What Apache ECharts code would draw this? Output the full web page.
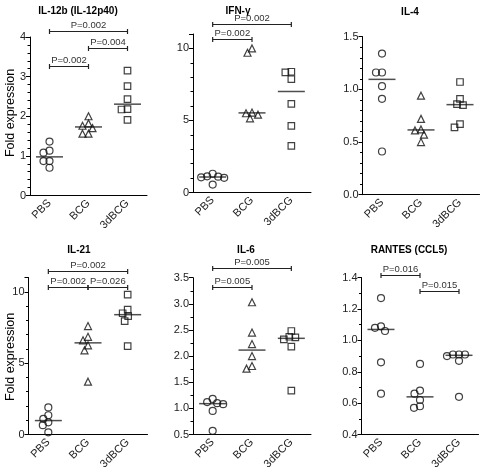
<!DOCTYPE html>
<html>
<head>
<meta charset="utf-8">
<script src="https://cdn.jsdelivr.net/npm/echarts@6/dist/echarts.min.js"></script>
<style>
html,body{margin:0;padding:0;background:#fff;}
#chart{width:481px;height:472px;}
</style>
</head>
<body>
<div id="chart"></div>
<script>
// ---------- DATA ----------
const categories = ['PBS', 'BCG', '3dBCG'];
const panelTitles = ['IL-12b (IL-12p40)', 'IFN-γ', 'IL-4', 'IL-21', 'IL-6', 'RANTES (CCL5)'];
const yAxisTitle = 'Fold expression';

const il12b_PBS   = [1.36, 1.13, 1.08, 0.87, 0.87, 0.70];
const il12b_BCG   = [2.00, 1.82, 1.76, 1.70, 1.56, 1.56];
const il12b_3dBCG = [3.15, 2.76, 2.43, 2.18, 2.17, 1.91];

const ifn_PBS   = [1.30, 1.12, 1.10, 1.05, 1.02, 0.55];
const ifn_BCG   = [10.0, 9.70, 5.55, 5.50, 5.40, 5.15];
const ifn_3dBCG = [8.38, 8.33, 7.87, 6.15, 4.62, 3.23];

const il4_PBS   = [1.34, 1.16, 1.16, 1.03, 0.91, 0.41];
const il4_BCG   = [0.94, 0.72, 0.62, 0.61, 0.57, 0.50];
const il4_3dBCG = [1.07, 0.91, 0.86, 0.85, 0.67, 0.64];

const il21_PBS   = [1.90, 1.35, 1.10, 0.85, 0.65, 0.15];
const il21_BCG   = [7.60, 6.85, 6.60, 6.25, 5.90, 3.70];
const il21_3dBCG = [9.80, 8.75, 8.50, 8.30, 7.95, 6.20];

const il6_PBS   = [1.18, 1.12, 1.10, 1.08, 0.95, 0.57];
const il6_BCG   = [3.03, 2.45, 2.23, 2.00, 1.81, 1.76];
const il6_3dBCG = [2.48, 2.37, 2.36, 2.32, 2.18, 1.34];

const rantes_PBS   = [1.27, 1.09, 1.08, 1.06, 0.86, 0.66];
const rantes_BCG   = [0.85, 0.68, 0.66, 0.62, 0.58, 0.57];
const rantes_3dBCG = [0.91, 0.91, 0.91, 0.90, 0.87, 0.64];

// brackets: [label, fromCategory, toCategory, level (data units)]
const il12b_P  = [['P=0.002', 0, 1, 3.28], ['P=0.004', 1, 2, 3.72], ['P=0.002', 0, 2, 4.15]];
const ifn_P    = [['P=0.002', 0, 1, 10.65], ['P=0.002', 0, 2, 11.67]];
const il4_P    = [];
const il21_P   = [['P=0.002', 0, 1, 10.37], ['P=0.026', 1, 2, 10.37], ['P=0.002', 0, 2, 11.46]];
const il6_P    = [['P=0.005', 0, 1, 3.33], ['P=0.005', 0, 2, 3.68]];
const rantes_P = [['P=0.016', 0, 1, 1.42], ['P=0.015', 1, 2, 1.316]];

// y-axis scales: [min, max, major, minor, decimals]
const il12b_Y  = [0, 4, 1, 0.2, 0];
const ifn_Y    = [0, 11, 5, 1, 0];
const il4_Y    = [0, 1.5, 0.5, 0.1, 1];
const il21_Y   = [0, 11, 5, 1, 0];
const il6_Y    = [0.5, 3.5, 0.5, 0.25, 1];
const rantes_Y = [0.4, 1.4, 0.2, 0.1, 1];

// ---------- LAYOUT ----------
const panels = [
  { groups: [il12b_PBS, il12b_BCG, il12b_3dBCG], P: il12b_P, Y: il12b_Y, shapes: ['circle', 'triangle', 'rect'],
    grid: { left: 30, top: 37, width: 117, height: 158.5 }, title: [78, 11], ylab: [11, 113] },
  { groups: [ifn_PBS, ifn_BCG, ifn_3dBCG], P: ifn_P, Y: ifn_Y, shapes: ['circle', 'triangle', 'rect'],
    grid: { left: 193, top: 34, width: 118, height: 158.5 }, title: [238, 11.5] },
  { groups: [il4_PBS, il4_BCG, il4_3dBCG], P: il4_P, Y: il4_Y, shapes: ['circle', 'triangle', 'rect'],
    grid: { left: 362.5, top: 36.7, width: 117, height: 158 }, title: [410, 12.5] },
  { groups: [il21_PBS, il21_BCG, il21_3dBCG], P: il21_P, Y: il21_Y, shapes: ['circle', 'triangle', 'rect'],
    grid: { left: 28.5, top: 277.6, width: 119, height: 158.4 }, title: [79, 250], ylab: [11, 357] },
  { groups: [il6_PBS, il6_BCG, il6_3dBCG], P: il6_P, Y: il6_Y, shapes: ['circle', 'triangle', 'rect'],
    grid: { left: 193, top: 277.7, width: 118, height: 158.3 }, title: [246, 250] },
  { groups: [rantes_PBS, rantes_BCG, rantes_3dBCG], P: rantes_P, Y: rantes_Y, shapes: ['circle', 'circle', 'circle'],
    grid: { left: 361.5, top: 277.7, width: 117, height: 159 }, title: [409, 250] }
];

function median(a) {
  const s = a.slice().sort((x, y) => x - y);
  const n = s.length;
  return n % 2 ? s[(n - 1) / 2] : (s[n / 2 - 1] + s[n / 2]) / 2;
}

// beeswarm offsets (pixels) so that nearby symbols do not sit on top of each other
function swarm(values, pxPerUnit, d) {
  const idx = values.map((v, i) => i).sort((a, b) => values[b] - values[a]);
  const placed = [];
  const off = new Array(values.length).fill(0);
  for (const i of idx) {
    const y = values[i] * pxPerUnit;
    let chosen = 0;
    for (let k = 0; k < 400; k++) {
      const cands = k === 0 ? [0] : [-k * 0.5, k * 0.5];
      let ok = null;
      for (const dx of cands) {
        if (placed.every(p => (p.x - dx) * (p.x - dx) + (p.y - y) * (p.y - y) >= d * d)) { ok = dx; break; }
      }
      if (ok !== null) { chosen = ok; break; }
    }
    placed.push({ x: chosen, y: y });
    off[i] = chosen;
  }
  return off;
}

const FONT = 'Liberation Sans, Arial, Helvetica, sans-serif';
const grids = [], xAxes = [], yAxes = [], series = [], graphics = [];

panels.forEach((p, pi) => {
  const [ymin, ymax, major, minor, dec] = p.Y;
  grids.push(Object.assign({ containLabel: false }, p.grid));
  xAxes.push({
    type: 'category', gridIndex: pi, data: categories, boundaryGap: true,
    axisLine: { lineStyle: { color: '#000', width: 1 } },
    axisTick: { alignWithLabel: true, length: 4, lineStyle: { color: '#000' } },
    axisLabel: { rotate: 45, margin: 6, fontSize: 11, color: '#222', fontFamily: FONT, interval: 0 },
    splitLine: { show: false }
  });
  const eps = 1e-6;
  yAxes.push({
    type: 'value', gridIndex: pi, position: 'left', min: ymin, max: ymax, interval: major,
    axisLine: { show: true, lineStyle: { color: '#000', width: 1 } },
    axisTick: { show: true, length: 4, lineStyle: { color: '#000' } },
    axisLabel: {
      fontSize: 11, color: '#222', fontFamily: FONT, margin: 4,
      formatter: v => {
        const r = (v - ymin) / major;
        return Math.abs(r - Math.round(r)) < eps ? v.toFixed(dec) : '';
      }
    },
    splitLine: { show: false }
  });
  yAxes.push({
    type: 'value', gridIndex: pi, position: 'left', offset: 0, min: ymin, max: ymax, interval: minor,
    axisLine: { show: false },
    axisTick: { show: true, length: 2.5, lineStyle: { color: '#000' } },
    axisLabel: { show: false },
    splitLine: { show: false }
  });
  const yIdx = pi * 2;
  const pxPerUnit = p.grid.height / (ymax - ymin);

  p.groups.forEach((vals, gi) => {
    const offs = swarm(vals, pxPerUnit, 6);
    const shape = p.shapes[gi];
    series.push({
      type: 'scatter', xAxisIndex: pi, yAxisIndex: yIdx, silent: true, z: 3,
      symbol: shape,
      symbolSize: shape === 'rect' ? 6.5 : (shape === 'triangle' ? 7 : 7),
      itemStyle: { color: 'rgba(255,255,255,0)', borderColor: '#111', borderWidth: 1.2 },
      data: vals.map((v, i) => ({ value: [gi, v], symbolOffset: [offs[i], 0] }))
    });
  });
  series.push({
    type: 'scatter', xAxisIndex: pi, yAxisIndex: yIdx, silent: true, z: 2,
    symbol: 'rect', symbolSize: [27, 1.5],
    itemStyle: { color: '#222' },
    data: p.groups.map((vals, gi) => [gi, median(vals)])
  });
  if (p.P.length) {
    const br = p.P;
    series.push({
      type: 'custom', xAxisIndex: pi, yAxisIndex: yIdx, silent: true, clip: false, z: 4,
      data: br.map(b => [b[1], b[3], b[2]]),
      renderItem: (params, api) => {
        const b = br[params.dataIndex];
        const p1 = api.coord([b[1], b[3]]);
        const p2 = api.coord([b[2], b[3]]);
        const y = Math.round(p1[1]) + 0.5;
        const ls = { stroke: '#222', lineWidth: 1.2 };
        return {
          type: 'group',
          children: [
            { type: 'line', shape: { x1: p1[0], y1: y, x2: p2[0], y2: y }, style: ls },
            { type: 'line', shape: { x1: p1[0], y1: y - 2.5, x2: p1[0], y2: y + 2.5 }, style: ls },
            { type: 'line', shape: { x1: p2[0], y1: y - 2.5, x2: p2[0], y2: y + 2.5 }, style: ls },
            { type: 'text', x: (p1[0] + p2[0]) / 2, y: y - 6,
              style: { text: b[0], fill: '#333', font: '9.5px ' + FONT, align: 'center', verticalAlign: 'middle' } }
          ]
        };
      }
    });
  }
  graphics.push({
    type: 'text', x: p.title[0], y: p.title[1], silent: true,
    style: { text: panelTitles[pi], fill: '#000', font: 'bold 10px ' + FONT, align: 'center', verticalAlign: 'middle' }
  });
  if (p.ylab) {
    graphics.push({
      type: 'text', x: p.ylab[0], y: p.ylab[1], rotation: Math.PI / 2, silent: true,
      style: { text: yAxisTitle, fill: '#000', font: '12.5px ' + FONT, align: 'center', verticalAlign: 'middle' }
    });
  }
});

const chart = echarts.init(document.getElementById('chart'), null, { renderer: 'canvas' });
chart.setOption({
  animation: false,
  backgroundColor: '#fff',
  grid: grids,
  xAxis: xAxes,
  yAxis: yAxes,
  series: series,
  graphic: graphics
});
</script>
</body>
</html>
